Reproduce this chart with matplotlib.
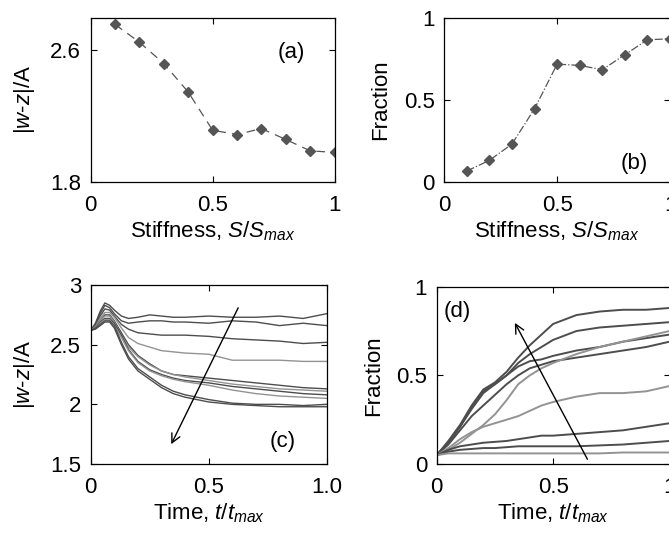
import matplotlib
matplotlib.use('Agg')
import matplotlib.pyplot as plt

plt.rcParams['font.family'] = ['Liberation Sans', 'DejaVu Sans']
plt.rcParams['mathtext.fontset'] = 'custom'
plt.rcParams['mathtext.rm'] = 'Liberation Sans'
plt.rcParams['mathtext.it'] = 'Liberation Sans:italic'
plt.rcParams['font.size'] = 16

# (a), (b): values vs stiffness
stiff = [0.1, 0.2, 0.3, 0.4, 0.5, 0.6, 0.7, 0.8, 0.9, 1.0]
wz_final = [2.758, 2.65, 2.52, 2.347, 2.115, 2.089, 2.125, 2.059, 1.99, 1.98]
frac_final = [0.067, 0.132, 0.231, 0.446, 0.717, 0.709, 0.683, 0.774, 0.865, 0.871]

# (c): |w-z|/A over time
t_c = [0, 0.02, 0.04, 0.06, 0.08, 0.1, 0.13, 0.16, 0.2, 0.25, 0.3, 0.35, 0.4,
       0.5, 0.6, 0.7, 0.8, 0.9, 1.0]
wz_curves = [
    [2.62, 2.68, 2.78, 2.85, 2.83, 2.79, 2.74, 2.72, 2.73, 2.75, 2.74, 2.73, 2.73, 2.74, 2.73, 2.73, 2.74, 2.72, 2.76],
    [2.62, 2.67, 2.76, 2.83, 2.81, 2.76, 2.70, 2.68, 2.69, 2.70, 2.70, 2.69, 2.69, 2.68, 2.70, 2.69, 2.66, 2.68, 2.66],
    [2.62, 2.66, 2.74, 2.80, 2.79, 2.74, 2.67, 2.63, 2.60, 2.59, 2.58, 2.58, 2.58, 2.57, 2.55, 2.54, 2.53, 2.51, 2.52],
    [2.62, 2.65, 2.72, 2.77, 2.77, 2.73, 2.64, 2.56, 2.51, 2.48, 2.45, 2.44, 2.43, 2.42, 2.37, 2.37, 2.37, 2.36, 2.36],
    [2.62, 2.65, 2.70, 2.75, 2.75, 2.70, 2.60, 2.50, 2.41, 2.34, 2.28, 2.25, 2.24, 2.22, 2.20, 2.18, 2.16, 2.14, 2.13],
    [2.62, 2.65, 2.70, 2.74, 2.74, 2.69, 2.58, 2.48, 2.40, 2.33, 2.28, 2.25, 2.23, 2.20, 2.17, 2.15, 2.13, 2.12, 2.11],
    [2.62, 2.64, 2.69, 2.72, 2.72, 2.68, 2.58, 2.46, 2.36, 2.29, 2.25, 2.22, 2.20, 2.18, 2.15, 2.13, 2.11, 2.09, 2.08],
    [2.62, 2.64, 2.68, 2.71, 2.71, 2.66, 2.56, 2.45, 2.35, 2.28, 2.24, 2.21, 2.19, 2.16, 2.12, 2.09, 2.07, 2.06, 2.05],
    [2.62, 2.64, 2.67, 2.70, 2.70, 2.66, 2.52, 2.40, 2.30, 2.23, 2.16, 2.11, 2.08, 2.04, 2.01, 2.00, 2.00, 1.99, 2.00],
    [2.62, 2.63, 2.66, 2.69, 2.69, 2.64, 2.50, 2.38, 2.28, 2.21, 2.14, 2.09, 2.06, 2.02, 2.00, 1.99, 1.98, 1.98, 1.98],
]
wz_shade = ['dark', 'dark', 'dark', 'light', 'dark', 'light', 'dark', 'light', 'dark', 'dark']

# (d): fraction over time
t_d = [0, 0.05, 0.1, 0.15, 0.2, 0.25, 0.3, 0.35, 0.4, 0.45, 0.5, 0.6, 0.7, 0.8, 0.9, 1.0]
frac_curves = [
    [0.05, 0.13, 0.22, 0.33, 0.42, 0.46, 0.52, 0.60, 0.67, 0.73, 0.79, 0.84, 0.86, 0.87, 0.87, 0.88],
    [0.05, 0.12, 0.21, 0.32, 0.41, 0.45, 0.50, 0.57, 0.62, 0.66, 0.70, 0.75, 0.77, 0.78, 0.79, 0.80],
    [0.05, 0.12, 0.21, 0.31, 0.40, 0.45, 0.50, 0.55, 0.58, 0.59, 0.61, 0.64, 0.66, 0.69, 0.71, 0.73],
    [0.05, 0.11, 0.19, 0.27, 0.33, 0.39, 0.45, 0.50, 0.54, 0.56, 0.58, 0.60, 0.62, 0.64, 0.66, 0.69],
    [0.05, 0.08, 0.12, 0.17, 0.22, 0.28, 0.36, 0.45, 0.50, 0.54, 0.57, 0.62, 0.66, 0.69, 0.72, 0.75],
    [0.05, 0.09, 0.14, 0.18, 0.21, 0.23, 0.25, 0.27, 0.30, 0.33, 0.35, 0.38, 0.40, 0.40, 0.41, 0.44],
    [0.05, 0.08, 0.10, 0.11, 0.12, 0.125, 0.13, 0.14, 0.15, 0.16, 0.16, 0.17, 0.18, 0.19, 0.21, 0.23],
    [0.05, 0.07, 0.08, 0.085, 0.09, 0.09, 0.095, 0.10, 0.10, 0.10, 0.10, 0.10, 0.105, 0.11, 0.12, 0.13],
    [0.05, 0.06, 0.06, 0.06, 0.06, 0.06, 0.06, 0.06, 0.06, 0.06, 0.06, 0.06, 0.06, 0.065, 0.065, 0.065],
]
frac_shade = ['dark', 'dark', 'dark', 'dark', 'light', 'light', 'dark', 'dark', 'light']

shade = {'dark': '#4d4d4d', 'light': '#939393'}

fig = plt.figure(figsize=(6.69, 5.37), dpi=100)
ax_a = fig.add_axes([0.1356, 0.661, 0.3644, 0.3063])
ax_b = fig.add_axes([0.6641, 0.661, 0.3374, 0.3063])
ax_c = fig.add_axes([0.1356, 0.1359, 0.3528, 0.3333])
ax_d = fig.add_axes([0.6528, 0.1359, 0.3480, 0.3302])

def style(ax):
    ax.tick_params(direction='in', top=True, right=True, length=4, width=0.8)
    ax.tick_params(axis='x', pad=9)
    ax.tick_params(axis='y', pad=7)
    for s in ax.spines.values():
        s.set_linewidth(0.9)

# (a)
ax_a.plot(stiff, wz_final, color='#555555', lw=0.9, dashes=(7, 5))
ax_a.plot(stiff, wz_final, 'D', color='#555555', ms=5, ls='none')
ax_a.set_xlim(0, 1)
ax_a.set_ylim(1.8, 2.8)
ax_a.set_xticks([0, 0.5, 1])
ax_a.set_xticklabels(['0', '0.5', '1'])
ax_a.set_yticks([1.8, 2.6])
ax_a.set_xlabel(r'Stiffness, $S/S_{max}$', labelpad=3)
ax_a.set_ylabel(r'|$w$-$z$|/A', labelpad=9)
ax_a.text(0.765, 2.59, '(a)', va='center')
style(ax_a)

# (b)
ax_b.plot(stiff, frac_final, color='#555555', lw=0.9, ls='-.')
ax_b.plot(stiff, frac_final, 'D', color='#555555', ms=5, ls='none')
ax_b.set_xlim(0, 1)
ax_b.set_ylim(0, 1)
ax_b.set_xticks([0, 0.5, 1])
ax_b.set_xticklabels(['0', '0.5', '1'])
ax_b.set_yticks([0, 0.5, 1])
ax_b.set_yticklabels(['0', '0.5', '1'])
ax_b.set_xlabel(r'Stiffness, $S/S_{max}$', labelpad=3)
ax_b.set_ylabel('Fraction', labelpad=9)
ax_b.text(0.78, 0.11, '(b)', va='center')
style(ax_b)

# (c)
for vals, sh in zip(wz_curves, wz_shade):
    ax_c.plot(t_c, vals, color=shade[sh], lw=1.0)
ax_c.annotate('', xy=(0.336, 1.645), xytext=(0.63, 2.83),
              arrowprops=dict(arrowstyle='->', color='black', lw=1.0, mutation_scale=16))
ax_c.set_xlim(0, 1)
ax_c.set_ylim(1.5, 3)
ax_c.set_xticks([0, 0.5, 1])
ax_c.set_xticklabels(['0', '0.5', '1.0'])
ax_c.set_yticks([1.5, 2, 2.5, 3])
ax_c.set_yticklabels(['1.5', '2', '2.5', '3'])
ax_c.set_xlabel(r'Time, $t/t_{max}$', labelpad=3)
ax_c.set_ylabel(r'|$w$-$z$|/A', labelpad=9)
ax_c.text(0.76, 1.69, '(c)', va='center')
style(ax_c)

# (d)
for vals, sh in zip(frac_curves, frac_shade):
    ax_d.plot(t_d, vals, color=shade[sh], lw=1.4)
ax_d.annotate('', xy=(0.33, 0.81), xytext=(0.653, 0.013),
              arrowprops=dict(arrowstyle='->', color='black', lw=1.0, mutation_scale=16))
ax_d.set_xlim(0, 1)
ax_d.set_ylim(0, 1)
ax_d.set_xticks([0, 0.5, 1])
ax_d.set_xticklabels(['0', '0.5', '1'])
ax_d.set_yticks([0, 0.5, 1])
ax_d.set_yticklabels(['0', '0.5', '1'])
ax_d.set_xlabel(r'Time, $t/t_{max}$', labelpad=3)
ax_d.set_ylabel('Fraction', labelpad=9)
ax_d.text(0.03, 0.86, '(d)', va='center')
style(ax_d)

fig.savefig('out.png', dpi=100)
